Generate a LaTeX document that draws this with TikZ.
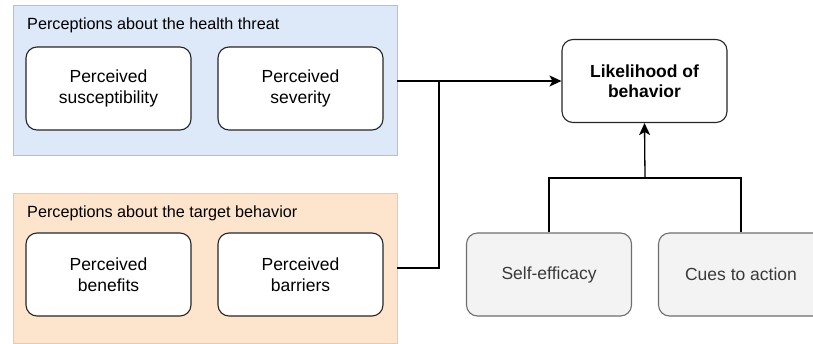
\documentclass[tikz,border=0pt]{standalone}
\usepackage{fontspec}
\setmainfont{Liberation Sans}
\usetikzlibrary{arrows.meta}
\definecolor{bluefill}{HTML}{DDE8F9}
\definecolor{blueline}{HTML}{AFC0D8}
\definecolor{orangefill}{HTML}{FDE5CD}
\definecolor{orangeline}{HTML}{E6CBAE}
\definecolor{grayfill}{HTML}{F3F3F3}
\definecolor{grayline}{HTML}{6E6E6E}
\definecolor{graytext}{HTML}{3A3A3A}
\begin{document}
\begin{tikzpicture}[x=1pt,y=-1pt,
  panelblue/.style={draw=blueline,fill=bluefill,line width=0.8pt,minimum width=384pt,minimum height=150pt,inner sep=0pt},
  panelorange/.style={draw=orangeline,fill=orangefill,line width=0.8pt,minimum width=384pt,minimum height=150pt,inner sep=0pt},
  paneltitle/.style={anchor=west,inner sep=0pt,font=\fontsize{16.2}{19}\selectfont},
  box/.style={draw=black!85,fill=white,line width=1.1pt,rounded corners=11pt,minimum width=165pt,minimum height=83pt,align=center,inner sep=0pt,font=\fontsize{17.5}{20.5}\selectfont},
  graybox/.style={box,draw=grayline,fill=grayfill,text=graytext},
  conn/.style={line width=1.3pt,draw=black},
  arr/.style={conn,-{Stealth[length=12pt,width=11pt,inset=3pt]}}
]
\useasboundingbox (0,0) rectangle (813,343);
\clip (0,0) rectangle (813,343);
% panels
\node[panelblue] (threat) at (205,80) {};
\node[paneltitle] (threatlbl) at (27,25) {Perceptions about the health threat};
\node[panelorange] (target) at (205,268) {};
\node[paneltitle] (targetlbl) at (27,213) {Perceptions about the target behavior};
% inner boxes
\node[box] (susc) at (108.5,88.5) {Perceived\\susceptibility};
\node[box] (sev) at (300.5,88.5) {Perceived\\severity};
\node[box] (ben) at (108.5,274.5) {Perceived\\benefits};
\node[box] (bar) at (300.5,274.5) {Perceived\\barriers};
% right side
\node[box,font=\fontsize{17.5}{20.5}\selectfont\bfseries] (likely) at (644.5,81) {Likelihood of\\behavior};
\node[graybox] (self) at (549,274.5) {Self-efficacy};
\node[graybox] (cues) at (741,274.5) {Cues to action};
% connectors
\coordinate (j) at (439,81);
\coordinate (k) at (645,178);
\draw[arr] (threat.east |- likely.west) -- (likely.west);
\draw[conn] (target.east) -| (j);
\draw[conn] (self.north) |- (k) -| (cues.north);
\draw[arr] (k) -- (likely.south);
\end{tikzpicture}
\end{document}
